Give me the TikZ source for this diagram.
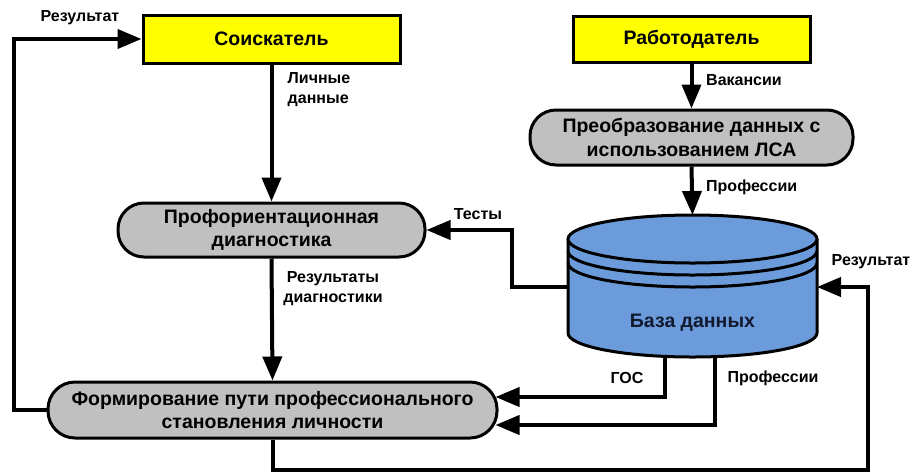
\documentclass[tikz,border=0pt]{standalone}
\usepackage{fontspec}
\setmainfont{Liberation Sans}
\usetikzlibrary{arrows.meta,calc}
\definecolor{boxyellow}{HTML}{FFFF00}
\definecolor{boxgray}{HTML}{C0C0C0}
\definecolor{dbblue}{HTML}{6B9BDB}
\definecolor{dbtext}{HTML}{111A2E}

\begin{document}
\begin{tikzpicture}[x=1pt,y=1pt,>={Triangle[length=24pt,width=19pt]},
    actor/.style={draw,line width=3pt,fill=boxyellow,inner sep=0pt,
      font=\fontsize{19.5}{23}\selectfont\bfseries},
    proc/.style={draw,line width=3pt,fill=boxgray,rounded corners=26pt,
      inner sep=0pt,align=center,font=\fontsize{19.5}{23.5}\selectfont\bfseries},
    flow/.style={line width=4pt,->},
    lbl/.style={inner sep=0pt,align=left,font=\fontsize{16}{20}\selectfont\bfseries}]
    \useasboundingbox (0,0) rectangle (914,-475);
    % Participants
    \node[actor,minimum width=257,minimum height=48] (sk) at (271.5,-39) {Соискатель};
    \node[actor,minimum width=237,minimum height=46] (rb) at (691.5,-39) {Работодатель};
    % Processing steps
    \node[proc,minimum width=323,minimum height=55] (pr) at (691.5,-137.5)
      {Преобразование данных с\\использованием ЛСА};
    \node[proc,minimum width=307,minimum height=54] (pd) at (271.5,-230)
      {Профориентационная\\диагностика};
    \node[proc,minimum width=449,minimum height=56,rounded corners=27pt] (fp) at (272.5,-410)
      {Формирование пути профессионального\\становления личности};
    % Database cylinder: centre x = 692.5, rx = 124.5, ry = 24
    \fill[dbblue] (568,-239) -- (568,-333) arc (180:360:124.5 and 24) -- (817,-239) -- cycle;
    \draw[line width=3pt] (568,-239) -- (568,-333) arc (180:360:124.5 and 24) -- (817,-239);
    \draw[line width=3pt,fill=dbblue] (692.5,-239) ellipse (124.5 and 24);
    \draw[line width=3pt] (568,-251) arc (180:360:124.5 and 24);
    \draw[line width=3pt] (568,-263) arc (180:360:124.5 and 24);
    \node[font=\fontsize{19.5}{23}\selectfont\bfseries,text=dbtext] (db) at (692.5,-323) {База данных};
    \coordinate (dbn) at (692.5,-215);
    \coordinate (dbw) at (568,-287);
    \coordinate (dbe) at (817,-287);
    \coordinate (dbg) at (665,-356);
    \coordinate (dbp) at (715,-356);
    % Ends on the rounded right side of (fp)
    \coordinate (fpg) at ($(fp.east)+(-3,13)$);
    \coordinate (fpp) at ($(fp.east)+(-3,-15)$);
    \coordinate (rc) at (868,-470);
    % Flows
    \draw[flow] (sk.south) -- (pd.north);
    \node[lbl] (l1) at (319,-90) {Личные\\данные};
    \draw[flow] (pd.south) -- (fp.north);
    \node[lbl,align=center] (l2) at (333,-289) {Результаты\\диагностики};
    \draw[flow] (rb.south) -- (pr.north);
    \node[lbl,anchor=west] (l3) at (706,-80) {Вакансии};
    \draw[flow] (pr.south) -- (dbn);
    \node[lbl,anchor=west] (l4) at (706,-187) {Профессии};
    \draw[flow] (dbw) -- ++(-56,0) |- (pd.east);
    \node[lbl] (l5) at (478,-214) {Тесты};
    \draw[flow] (dbg) |- (fpg);
    \node[lbl] (l6) at (627,-378) {ГОС};
    \draw[flow] (dbp) |- (fpp);
    \node[lbl] (l7) at (773,-378) {Профессии};
    \draw[flow] (fp.west) -- ++(-33,0) |- (sk.west);
    \node[lbl] (l8) at (80,-18) {Результат};
    \draw[flow] (fp.south) |- (rc) |- (dbe);
    \node[lbl] (l9) at (871,-262) {Результат};
\end{tikzpicture}
\end{document}
